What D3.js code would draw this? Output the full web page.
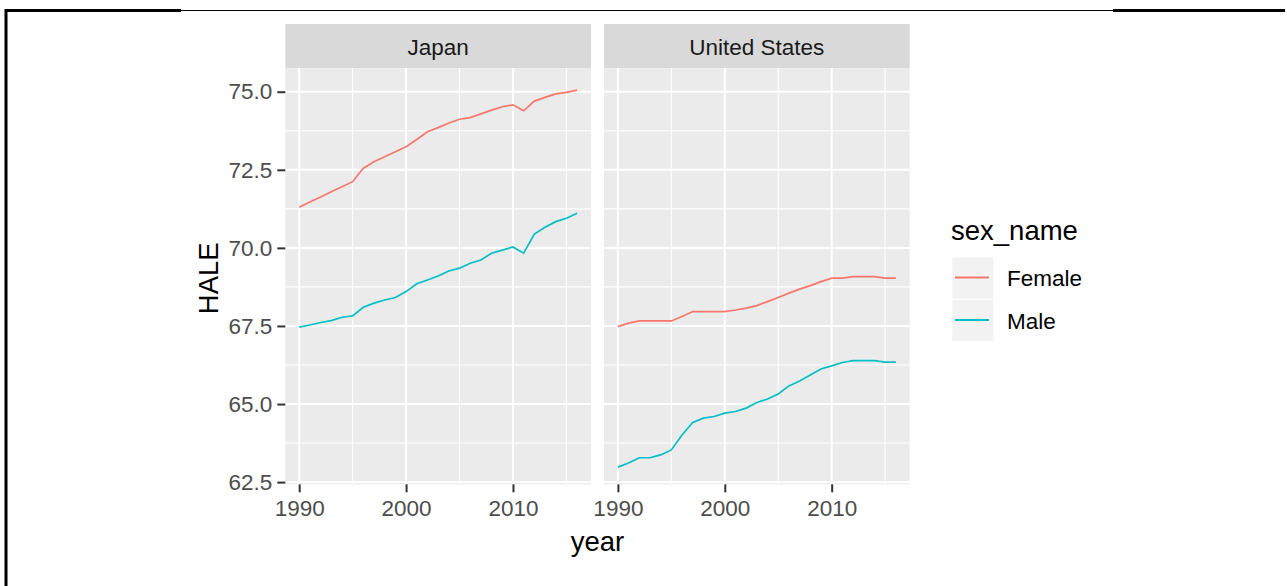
<!DOCTYPE html>
<html>
<head>
<meta charset="utf-8">
<script src="https://cdn.jsdelivr.net/npm/d3@7"></script>
<style>
  body { margin: 0; background: #fff; }
  svg text { font-family: "Liberation Sans", Arial, sans-serif; }
</style>
</head>
<body>
<div id="chart"></div>
<script>
// data
var years = [1990, 1991, 1992, 1993, 1994, 1995, 1996, 1997, 1998, 1999,
             2000, 2001, 2002, 2003, 2004, 2005, 2006, 2007, 2008, 2009,
             2010, 2011, 2012, 2013, 2014, 2015, 2016];
var japanFemale = [71.30, 71.47, 71.63, 71.80, 71.96, 72.12, 72.55, 72.76, 72.92, 73.08,
                   73.24, 73.47, 73.72, 73.85, 74.00, 74.12, 74.17, 74.29, 74.41, 74.52,
                   74.58, 74.39, 74.70, 74.82, 74.93, 74.98, 75.05];
var japanMale = [67.46, 67.53, 67.61, 67.67, 67.78, 67.82, 68.10, 68.23, 68.33, 68.41,
                 68.60, 68.85, 68.97, 69.10, 69.26, 69.35, 69.51, 69.61, 69.83, 69.93,
                 70.03, 69.83, 70.44, 70.66, 70.84, 70.95, 71.11];
var usFemale = [67.48, 67.59, 67.66, 67.66, 67.66, 67.66, 67.80, 67.96, 67.96, 67.96,
                67.96, 68.01, 68.07, 68.15, 68.28, 68.41, 68.55, 68.68, 68.79, 68.92,
                69.03, 69.03, 69.08, 69.08, 69.08, 69.03, 69.03];
var usMale = [62.98, 63.11, 63.28, 63.28, 63.37, 63.53, 64.01, 64.41, 64.55, 64.60,
              64.71, 64.76, 64.87, 65.05, 65.16, 65.32, 65.58, 65.74, 65.93, 66.12,
              66.22, 66.33, 66.39, 66.39, 66.39, 66.34, 66.34];

var countries = ["Japan", "United States"];
var sexes = ["Female", "Male"];
var colors = ["#F8766D", "#00BFC4"];
var xTicks = [1990, 2000, 2010];
var xMinor = [1995, 2005, 2015];
var yTicks = [62.5, 65.0, 67.5, 70.0, 72.5, 75.0];
var yMinor = [63.75, 66.25, 68.75, 71.25, 73.75];

var seriesByCountry = [[japanFemale, japanMale], [usFemale, usMale]];

var width = 1287;
var height = 586;

var panelLefts = [285.3, 604];
var panelWidth = 305.7;
var panelTop = 68.3;
var panelBottom = 484.3;
var stripTop = 24;

var smallFont = 22.5;
var bigFont = 27.5;

const svg = d3.select("#chart").append("svg")
    .attr("width", width)
    .attr("height", height);

svg.append("rect").attr("width", width).attr("height", height).attr("fill", "#fff");

// frame round the picture
svg.append("line").attr("x1", 6).attr("x2", 6).attr("y1", 9).attr("y2", height)
    .attr("stroke", "#000").attr("stroke-width", 3);
svg.append("line").attr("x1", 5).attr("x2", 181).attr("y1", 10.5).attr("y2", 10.5)
    .attr("stroke", "#000").attr("stroke-width", 3);
svg.append("line").attr("x1", 181).attr("x2", 1113).attr("y1", 10.5).attr("y2", 10.5)
    .attr("stroke", "#000").attr("stroke-width", 1);
svg.append("line").attr("x1", 1113).attr("x2", 1285).attr("y1", 10.5).attr("y2", 10.5)
    .attr("stroke", "#000").attr("stroke-width", 3);

//Declare the y (vertical position) scale, shared by both panels.
var y = d3.scaleLinear()
    .domain([62.43, 75.75])
    .range([panelBottom, panelTop]);

countries.forEach(function(country, i) {
    var left = panelLefts[i];

    //Declare the x (horizontal position) scale for this panel.
    var x = d3.scaleLinear()
        .domain([1988.7, 2017.3])
        .range([left, left + panelWidth]);

    // strip
    svg.append("rect")
        .attr("x", left).attr("y", stripTop)
        .attr("width", panelWidth).attr("height", panelTop - stripTop)
        .attr("fill", "#D9D9D9");
    svg.append("text")
        .attr("x", left + panelWidth / 2)
        .attr("y", (stripTop + panelTop) / 2 + 1)
        .attr("dy", "0.35em")
        .attr("text-anchor", "middle")
        .attr("font-size", smallFont)
        .attr("fill", "#1A1A1A")
        .text(country);

    // panel background
    svg.append("rect")
        .attr("x", left).attr("y", panelTop)
        .attr("width", panelWidth).attr("height", panelBottom - panelTop)
        .attr("fill", "#EBEBEB");

    const grid = svg.append("g").attr("stroke", "#fff");
    grid.selectAll(".ymin").data(yMinor).join("line")
        .attr("x1", left).attr("x2", left + panelWidth)
        .attr("y1", d => y(d)).attr("y2", d => y(d))
        .attr("stroke-width", 1.1);
    grid.selectAll(".xmin").data(xMinor).join("line")
        .attr("x1", d => x(d)).attr("x2", d => x(d))
        .attr("y1", panelTop).attr("y2", panelBottom)
        .attr("stroke-width", 1.1);
    grid.selectAll(".ymaj").data(yTicks).join("line")
        .attr("x1", left).attr("x2", left + panelWidth)
        .attr("y1", d => y(d)).attr("y2", d => y(d))
        .attr("stroke-width", 2);
    grid.selectAll(".xmaj").data(xTicks).join("line")
        .attr("x1", d => x(d)).attr("x2", d => x(d))
        .attr("y1", panelTop).attr("y2", panelBottom)
        .attr("stroke-width", 2);

    // lines
    var line = d3.line()
        .x((d, k) => x(years[k]))
        .y(d => y(d));

    seriesByCountry[i].forEach(function(values, s) {
        svg.append("path")
            .datum(values)
            .attr("fill", "none")
            .attr("stroke", colors[s])
            .attr("stroke-width", 1.7)
            .attr("d", line);
    });

    //Add the x-axis.
    const gx = svg.append("g")
        .attr("transform", `translate(0,${panelBottom})`)
        .call(d3.axisBottom(x).tickValues(xTicks).tickFormat(d3.format("d")).tickSize(8).tickPadding(8));
    gx.select(".domain").remove();
    gx.selectAll("line").attr("stroke", "#333333").attr("stroke-width", 2);
    gx.selectAll("text")
        .attr("font-size", smallFont)
        .attr("font-family", "Liberation Sans, Arial, sans-serif")
        .attr("fill", "#4D4D4D");

    //Add the y-axis on the first panel only.
    if (i === 0) {
        const gy = svg.append("g")
            .attr("transform", `translate(${left},0)`)
            .call(d3.axisLeft(y).tickValues(yTicks).tickFormat(d3.format(".1f")).tickSize(8).tickPadding(5));
        gy.select(".domain").remove();
        gy.selectAll("line").attr("stroke", "#333333").attr("stroke-width", 2);
        gy.selectAll("text")
            .attr("font-size", smallFont)
            .attr("font-family", "Liberation Sans, Arial, sans-serif")
            .attr("fill", "#4D4D4D");
    }
});

// axis titles
svg.append("text")
    .attr("x", (panelLefts[0] + panelLefts[1] + panelWidth) / 2)
    .attr("y", 551)
    .attr("text-anchor", "middle")
    .attr("font-size", bigFont)
    .attr("fill", "#000")
    .text("year");

svg.append("text")
    .attr("transform", `translate(218,${(panelTop + panelBottom) / 2 + 2}) rotate(-90)`)
    .attr("text-anchor", "middle")
    .attr("font-size", bigFont)
    .attr("fill", "#000")
    .text("HALE");

// legend
const legend = svg.append("g");
legend.append("text")
    .attr("x", 951).attr("y", 240)
    .attr("font-size", bigFont)
    .attr("fill", "#000")
    .text("sex_name");

sexes.forEach(function(sex, s) {
    var top = 257.5 + s * 42.5;
    legend.append("rect")
        .attr("x", 952.3).attr("y", top)
        .attr("width", 41).attr("height", 41)
        .attr("fill", "#F2F2F2");
    legend.append("line")
        .attr("x1", 955).attr("x2", 989)
        .attr("y1", top + 20).attr("y2", top + 20)
        .attr("stroke", colors[s])
        .attr("stroke-width", 2.2);
    legend.append("text")
        .attr("x", 1007)
        .attr("y", top + 21)
        .attr("dy", "0.35em")
        .attr("font-size", smallFont)
        .attr("fill", "#000")
        .text(sex);
});
</script>
</body>
</html>
